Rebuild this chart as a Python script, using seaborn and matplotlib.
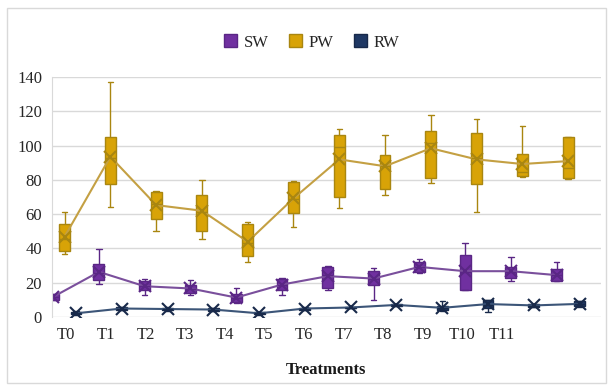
import numpy as np
import pandas as pd
import seaborn as sns
import matplotlib
matplotlib.use("Agg")
import matplotlib.pyplot as plt
from matplotlib.patches import Patch, Rectangle

# --------------------------------------------------------------------------- #
# Data                                               #
# --------------------------------------------------------------------------- #
treatments = ["T0", "T1", "T2", "T3", "T4", "T5", "T6", "T7", "T8", "T9", "T10", "T11"]
series = ["SW", "PW", "RW"]

# SW
sw_low = [9.6, 19.1, 13.0, 13.0, 8.4, 13.0, 16.0, 9.7, 25.9, 16.0, 20.9, 20.9]
sw_q1 = [10.1, 21.4, 15.6, 14.0, 8.8, 15.6, 16.6, 18.5, 26.3, 16.0, 23.0, 20.9]
sw_med = [11.7, 25.5, 18.0, 16.5, 11.0, 18.5, 24.5, 22.0, 29.0, 26.0, 26.5, 24.5]
sw_q3 = [13.3, 30.8, 21.0, 18.9, 13.6, 22.4, 28.9, 26.9, 31.8, 36.1, 29.2, 27.9]
sw_high = [13.6, 39.4, 22.4, 21.8, 17.0, 22.8, 29.6, 28.3, 34.1, 42.9, 34.7, 32.2]
sw_mean = [11.7, 26.3, 17.9, 16.6, 11.3, 18.9, 23.8, 22.4, 29.2, 26.7, 26.7, 24.4]

# PW
pw_low = [36.5, 64.3, 50.1, 45.4, 32.2, 52.6, 63.8, 71.2, 78.4, 61.4, 81.9, 80.5]
pw_q1 = [38.4, 77.4, 57.1, 50.3, 35.5, 60.4, 70.2, 74.5, 80.9, 77.4, 82.3, 81.3]
pw_med = [45.5, 93.0, 66.0, 61.0, 43.0, 69.0, 99.0, 88.0, 101.8, 93.0, 84.8, 86.8]
pw_q3 = [54.2, 105.0, 72.7, 71.2, 54.2, 79.0, 106.0, 94.6, 108.8, 107.6, 95.1, 104.9]
pw_high = [61.4, 137.0, 73.5, 80.0, 55.6, 79.5, 110.0, 106.0, 118.0, 115.6, 111.7, 105.3]
pw_mean = [46.8, 93.6, 65.3, 62.0, 43.9, 69.2, 92.0, 88.0, 98.5, 92.0, 89.3, 91.0]

# RW
rw_low = [1.2, 3.8, 3.6, 3.2, 1.4, 4.0, 5.0, 6.2, 3.5, 3.0, 5.6, 6.0]
rw_q1 = [1.6, 4.2, 4.0, 3.6, 1.7, 4.3, 5.2, 6.5, 4.0, 5.0, 6.0, 6.5]
rw_med = [2.0, 4.8, 4.5, 4.2, 2.0, 4.8, 5.4, 6.9, 5.0, 7.2, 6.5, 7.4]
rw_q3 = [2.8, 5.6, 5.2, 5.0, 2.6, 5.4, 5.8, 7.4, 6.2, 9.6, 7.4, 9.0]
rw_high = [3.2, 6.0, 5.6, 5.3, 2.9, 5.7, 6.0, 7.6, 9.4, 9.8, 7.8, 9.3]
rw_mean = [2.1, 4.9, 4.6, 4.3, 2.1, 4.9, 5.5, 7.0, 5.3, 7.5, 6.7, 7.6]

y_ticks = [0, 20, 40, 60, 80, 100, 120, 140]

# five points per box -> quartiles land exactly on q1/median/q3
stats = {
    "SW": (sw_low, sw_q1, sw_med, sw_q3, sw_high),
    "PW": (pw_low, pw_q1, pw_med, pw_q3, pw_high),
    "RW": (rw_low, rw_q1, rw_med, rw_q3, rw_high),
}
means = {"SW": sw_mean, "PW": pw_mean, "RW": rw_mean}

rows = []
for s in series:
    for i, t in enumerate(treatments):
        for arr in stats[s]:
            rows.append((s, t, arr[i]))
box_df = pd.DataFrame(rows, columns=["series", "treatment", "value"])

mean_df = pd.DataFrame(
    [(s, t, means[s][i]) for s in series for i, t in enumerate(treatments)],
    columns=["series", "treatment", "value"],
)

# --------------------------------------------------------------------------- #
# Styling                                                                     #
# --------------------------------------------------------------------------- #
sns.set_style("white")
plt.rcParams["font.family"] = ["Liberation Serif", "DejaVu Serif"]

fill_colors = {"SW": "#7030a0", "PW": "#d8a307", "RW": "#1f3864"}
edge_colors = {"SW": "#5a2685", "PW": "#a98610", "RW": "#18294a"}
line_colors = {"SW": "#7a4f9c", "PW": "#c4a043", "RW": "#3c5578"}

fig = plt.figure(figsize=(6.09, 3.86), dpi=100)
ax = fig.add_axes([0.085, 0.179, 0.902, 0.621])

# one call per series so each gets its own edge colour, dodge kept via hue_order
for s in series:
    sns.boxplot(
        data=box_df[box_df["series"] == s],
        x="treatment", y="value",
        hue="series", hue_order=series, order=treatments,
        palette=fill_colors, saturation=1, width=0.75, dodge=True, gap=0.05,
        whis=(0, 100), showfliers=False, linewidth=1.0,
        linecolor=edge_colors[s], legend=False, ax=ax,
    )

n_before = len(ax.lines)
sns.pointplot(
    data=mean_df, x="treatment", y="value",
    hue="series", hue_order=series, order=treatments,
    palette=line_colors, dodge=0.5, errorbar=None,
    markers="x", markersize=8, markeredgewidth=1.5, linewidth=1.5,
    legend=False, ax=ax,
)
# mean crosses a shade darker than the connecting lines
for line in ax.lines[n_before:]:
    for s in series:
        if matplotlib.colors.same_color(line.get_color(), line_colors[s]):
            line.set_markeredgecolor(edge_colors[s])

# --------------------------------------------------------------------------- #
# Axes                                                                        #
# --------------------------------------------------------------------------- #
ax.set_ylim(0, 140)
ax.set_xlim(-0.28, 11.72)
ax.set_yticks(y_ticks)
ax.yaxis.grid(True, color="#d9d9d9", linewidth=1.0)
ax.set_axisbelow(True)
for side in ["top", "right", "bottom"]:
    ax.spines[side].set_visible(False)
ax.spines["left"].set_color("#d9d9d9")

# category labels sit on their own (tighter) spacing in the source picture
ax.set_xticks(np.arange(len(treatments)) * 0.865 + 0.04)
ax.set_xticklabels(treatments)
ax.tick_params(axis="both", length=0, labelsize=12, colors="#262626")
ax.tick_params(axis="x", pad=7)
ax.tick_params(axis="y", pad=7)
ax.set_ylabel("")
ax.set_xlabel("Treatments", fontsize=12, fontweight="bold", labelpad=14, color="#1a1a1a")

handles = [Patch(facecolor=fill_colors[s], edgecolor=edge_colors[s], label=s) for s in series]
fig.legend(
    handles=handles, loc="center", bbox_to_anchor=(0.512, 0.89), ncol=3,
    frameon=False, fontsize=12, handlelength=0.8, handleheight=0.8,
    handletextpad=0.4, columnspacing=1.2,
)

# light chart-area border
fig.patches.append(Rectangle((0.0115, 0.008), 0.983, 0.972, transform=fig.transFigure,
                             fill=False, edgecolor="#d9d9d9", linewidth=1.0))

fig.savefig("out.png", dpi=100, facecolor="white")
